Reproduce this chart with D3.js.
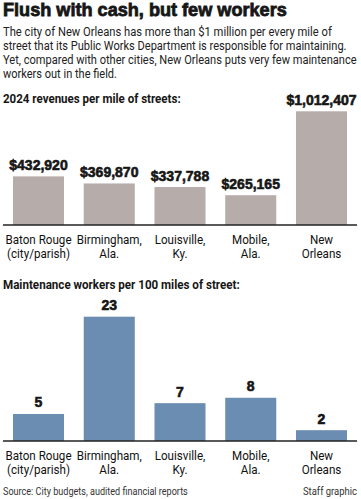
<!DOCTYPE html>
<html lang="en">
<head>
    <meta charset="utf-8">
    <title>Flush with cash, but few workers</title>
    <script src="https://cdn.jsdelivr.net/npm/d3@7"></script>
    <style>
        body { margin: 0; background: #fff; }
        svg { font-family: Roboto, "Liberation Sans", sans-serif; }
        text { fill: #161616; }
    </style>
</head>
<body>
    <svg width="361" height="499"></svg>
    <script>
        var cities = ["Baton Rouge", "Birmingham", "Louisville", "Mobile", "New Orleans"];
        var cityLabels = [["Baton Rouge", "(city/parish)"], ["Birmingham,", "Ala."], ["Louisville,", "Ky."], ["Mobile,", "Ala."], ["New", "Orleans"]];
        var revenues = [432920, 369870, 337788, 265165, 1012407];
        var workers = [5, 23, 7, 8, 2];

        var title = "Flush with cash, but few workers";
        var intro = [
            "The city of New Orleans has more than $1 million per every mile of",
            "street that its Public Works Department is responsible for maintaining.",
            "Yet, compared with other cities, New Orleans puts very few maintenance",
            "workers out in the field."
        ];
        var introWidths = [329, 344, 354, 114];

        var svg = d3.select("svg");
        var heavy = "'Liberation Sans', Arial, sans-serif";

        // squeeze a text to a given width (condensed newspaper face) with a transform
        function squeeze(t, x0, y0, w, k0) {
            var len = t.node().getComputedTextLength();
            var k = w ? w / len : k0;
            t.attr("x", 0).attr("y", 0)
                .attr("transform", "translate(" + x0 + "," + y0 + ") scale(" + k + ",1)");
        }

        var tt = svg.append("text")
            .style("font-family", heavy)
            .attr("font-weight", "bold").attr("font-size", 18.5)
            .style("stroke", "#161616").style("stroke-width", 0.8)
            .text(title);
        squeeze(tt, 3, 16, 284);

        intro.forEach(function (line, i) {
            var t = svg.append("text")
                .attr("font-size", 13)
                .style("fill", "#222")
                .text(line);
            squeeze(t, 3, 35.5 + i * 14, introWidths[i]);
        });

        var x = d3.scaleBand().domain(cities).range([3, 357]).paddingInner(0.279).paddingOuter(0.1413);

        function barChart(opt) {
            var g = svg.append("g");
            var y = d3.scaleLinear().domain([0, d3.max(opt.values)]).range([opt.base, opt.top]);

            var h = g.append("text")
                .attr("font-size", 13.5).attr("font-weight", "bold")
                .text(opt.head);
            squeeze(h, 3, opt.headY, opt.headW);

            g.selectAll("rect").data(opt.values).enter().append("rect")
                .attr("x", function (d, i) { return x(cities[i]); })
                .attr("y", function (d) { return y(d); })
                .attr("width", x.bandwidth())
                .attr("height", function (d) { return opt.base - y(d); })
                .attr("fill", opt.color);

            g.append("line")
                .attr("x1", 3).attr("x2", 357)
                .attr("y1", opt.base).attr("y2", opt.base)
                .attr("stroke", "#222").attr("stroke-width", 1.5);

            g.selectAll(".val").data(opt.values).enter().append("text")
                .attr("class", "val")
                .attr("x", function (d, i) { return x(cities[i]) + x.bandwidth() / 2; })
                .attr("y", function (d) { return y(d) - 6.5; })
                .attr("text-anchor", "middle")
                .style("font-family", heavy)
                .attr("font-weight", "bold").attr("font-size", 14)
                .style("stroke", "#161616").style("stroke-width", 0.6)
                .text(opt.fmt);

            cityLabels.forEach(function (lines, i) {
                var t = g.append("text")
                    .attr("text-anchor", "middle")
                    .attr("font-size", 12)
                    .style("fill", "#111");
                lines.forEach(function (l, j) {
                    t.append("tspan").attr("x", 0).attr("y", j * 14.3).text(l);
                });
                t.attr("transform", "translate(" + (x(cities[i]) + x.bandwidth() / 2) + "," +
                    (opt.base + 18.5) + ") scale(0.97,1)");
            });
        }

        barChart({
            head: "2024 revenues per mile of streets:", headY: 103, headW: 178,
            values: revenues, base: 225, top: 111.3, color: "#b6acaa",
            fmt: d3.format("$,")
        });

        barChart({
            head: "Maintenance workers per 100 miles of street:", headY: 289, headW: 237,
            values: workers, base: 441, top: 316.7, color: "#6b8db2",
            fmt: function (d) { return d; }
        });

        var src = svg.append("text")
            .attr("font-size", 11)
            .style("fill", "#333")
            .text("Source: City budgets, audited financial reports");
        squeeze(src, 3, 495, 185);

        var staff = svg.append("text")
            .attr("text-anchor", "end")
            .attr("font-size", 11)
            .style("fill", "#333")
            .text("Staff graphic");
        squeeze(staff, 357, 495, null, 0.86);
    </script>
</body>
</html>
